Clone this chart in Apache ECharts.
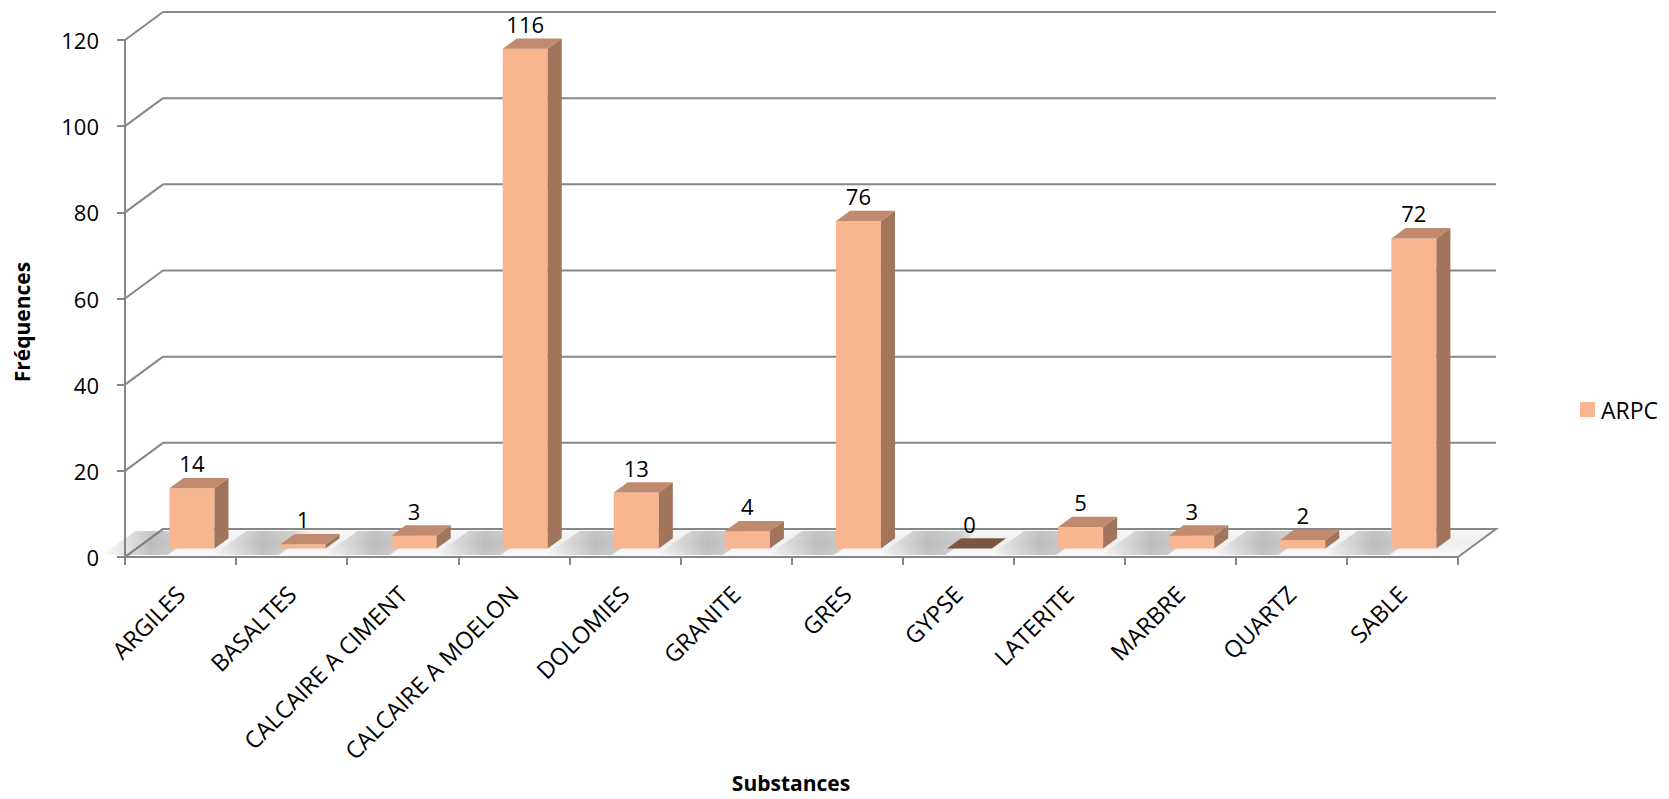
<!DOCTYPE html>
<html><head><meta charset="utf-8">
<script src="https://cdn.jsdelivr.net/npm/echarts@6.0.0/dist/echarts.min.js"></script>
<style>html,body{margin:0;padding:0;background:#fff}#c{width:1669px;height:799px}</style>
</head><body><div id="c"></div>
<script>
const categories = ['ARGILES','BASALTES','CALCAIRE A CIMENT','CALCAIRE A MOELON','DOLOMIES','GRANITE','GRES','GYPSE','LATERITE','MARBRE','QUARTZ','SABLE'];
const values = [14,1,3,116,13,4,76,0,5,3,2,72];
const yTicks = [0,20,40,60,80,100,120];
const seriesName = 'ARPC';
const xTitle = 'Substances';
const yTitle = 'Fréquences';

const FONT = '"Open Sans", sans-serif';
const DEPTH = [38, -28];
const F1 = 0.3, F2 = 0.67;
const BARW = 0.405;
const LINE = '#878787';
const FRONT = '#F9B58F', SIDE = '#A0755B', TOP = '#BF8A6D', ZERO = '#7D5642';

const chart = echarts.init(document.getElementById('c'), null, {renderer: 'svg'});

function edges(api, t) {
  const bw = api.size([1, 0])[0];
  const a = api.coord([0, t]);
  const b = api.coord([categories.length - 1, t]);
  return {xl: a[0] - bw / 2, xr: b[0] + bw / 2, y: a[1], bw: bw};
}

const option = {
  animation: false,
  backgroundColor: '#fff',
  grid: {left: 125, right: 211, top: 40, bottom: 242},
  legend: {
    data: [seriesName], left: 1575, top: 393, itemWidth: 15, itemHeight: 15, itemGap: 6,
    icon: 'rect',
    textStyle: {fontFamily: FONT, fontSize: 23, color: '#000', padding: [0, 0, 0, 1]}
  },
  xAxis: {
    type: 'category', data: categories,
    axisLine: {show: true, lineStyle: {color: LINE, width: 2}},
    axisTick: {show: true, length: 8, interval: 0, lineStyle: {color: LINE, width: 2}},
    axisLabel: {rotate: 45, interval: 0, fontFamily: FONT, fontSize: 23.5, color: '#000', margin: 33},
    splitLine: {show: false}
  },
  yAxis: {
    type: 'value', min: 0, max: 120, interval: 20,
    axisLine: {show: true, lineStyle: {color: LINE, width: 2}},
    axisTick: {show: true, length: 8, lineStyle: {color: LINE, width: 2}},
    axisLabel: {fontFamily: FONT, fontSize: 22, color: '#000', margin: 26},
    splitLine: {show: false}
  },
  graphic: [
    {type: 'text', x: 791, y: 783, style: {text: xTitle, font: 'bold 21px ' + FONT, fill: '#000', textAlign: 'center', textVerticalAlign: 'middle'}},
    {type: 'text', x: 22, y: 322, rotation: Math.PI / 2, style: {text: yTitle, font: 'bold 21px ' + FONT, fill: '#000', textAlign: 'center', textVerticalAlign: 'middle'}}
  ],
  series: [
    {
      type: 'custom', z: 1, silent: true,
      data: [[0, 0]],
      renderItem: function (params, api) {
        const e = edges(api, 0);
        return {
          type: 'polygon',
          shape: {points: [[e.xl, e.y], [e.xr, e.y], [e.xr + DEPTH[0], e.y + DEPTH[1]], [e.xl + DEPTH[0], e.y + DEPTH[1]]]},
          style: {
            fill: {type: 'linear', x: 0, y: 0, x2: 0, y2: 1, colorStops: [
              {offset: 0, color: '#f8f8f8'}, {offset: 0.5, color: '#eeeeee'}, {offset: 1, color: '#fbfbfb'}]},
            stroke: LINE, lineWidth: 2
          }
        };
      }
    },
    {
      type: 'custom', z: 2, silent: true,
      data: yTicks.map(t => [0, t]),
      renderItem: function (params, api) {
        const e = edges(api, api.value(1));
        return {
          type: 'group',
          children: [
            {type: 'line', shape: {x1: e.xl, y1: e.y, x2: e.xl + DEPTH[0], y2: e.y + DEPTH[1]}, style: {stroke: LINE, lineWidth: 2}},
            {type: 'line', shape: {x1: e.xl + DEPTH[0], y1: e.y + DEPTH[1], x2: e.xr + DEPTH[0], y2: e.y + DEPTH[1]}, style: {stroke: LINE, lineWidth: 2}}
          ]
        };
      }
    },
    {
      type: 'custom', z: 3, silent: true,
      data: values.map((v, i) => [i, v]),
      renderItem: function (params, api) {
        const i = api.value(0);
        const bw = api.size([1, 0])[0];
        const c0 = api.coord([i, 0]);
        const w = bw * BARW;
        const bl = c0[0] - w / 2 + DEPTH[0] * F1;
        const sR = bl + 4, sL = bl - 62;
        const y0 = c0[1] - 2, yb = c0[1] + DEPTH[1] + 2;
        return {
          type: 'polygon',
          shape: {points: [[sL - 6, y0], [sR - 6, y0], [sR + DEPTH[0] - 10, yb], [sL + DEPTH[0] - 10, yb]]},
          style: {
            fill: {type: 'linear', x: 0, y: 0, x2: 1, y2: 0, colorStops: [
              {offset: 0, color: 'rgba(120,120,120,0)'}, {offset: 0.5, color: 'rgba(120,120,120,0.42)'},
              {offset: 0.8, color: 'rgba(120,120,120,0.3)'}, {offset: 1, color: 'rgba(120,120,120,0)'}]}
          }
        };
      }
    },
    {
      name: seriesName, type: 'custom', z: 5,
      itemStyle: {color: FRONT},
      data: values.map((v, i) => [i, v]),
      renderItem: function (params, api) {
        const i = api.value(0), v = api.value(1);
        const bw = api.size([1, 0])[0];
        const c0 = api.coord([i, 0]);
        const c1 = api.coord([i, v]);
        const w = bw * BARW;
        const fx = c0[0] - w / 2 + DEPTH[0] * F1;
        const by = c0[1] + DEPTH[1] * F1;
        const ty = c1[1] + DEPTH[1] * F1;
        const dx = DEPTH[0] * (F2 - F1), dy = DEPTH[1] * (F2 - F1);
        const children = [];
        if (v > 0) {
          children.push({type: 'rect', shape: {x: fx, y: ty, width: w, height: by - ty}, style: {fill: FRONT}});
          children.push({type: 'polygon', shape: {points: [[fx + w, ty], [fx + w + dx, ty + dy], [fx + w + dx, by + dy], [fx + w, by]]}, style: {fill: SIDE}});
        }
        children.push({type: 'polygon', shape: {points: [[fx, ty], [fx + w, ty], [fx + w + dx, ty + dy], [fx + dx, ty + dy]]}, style: {fill: v > 0 ? TOP : ZERO}});
        children.push({type: 'text', x: fx + w / 2, y: ty - 25, style: {text: String(v), font: '22px ' + FONT, fill: '#000', textAlign: 'center', textVerticalAlign: 'middle'}});
        return {type: 'group', children: children};
      }
    }
  ]
};
chart.setOption(option);
</script>
</body></html>
